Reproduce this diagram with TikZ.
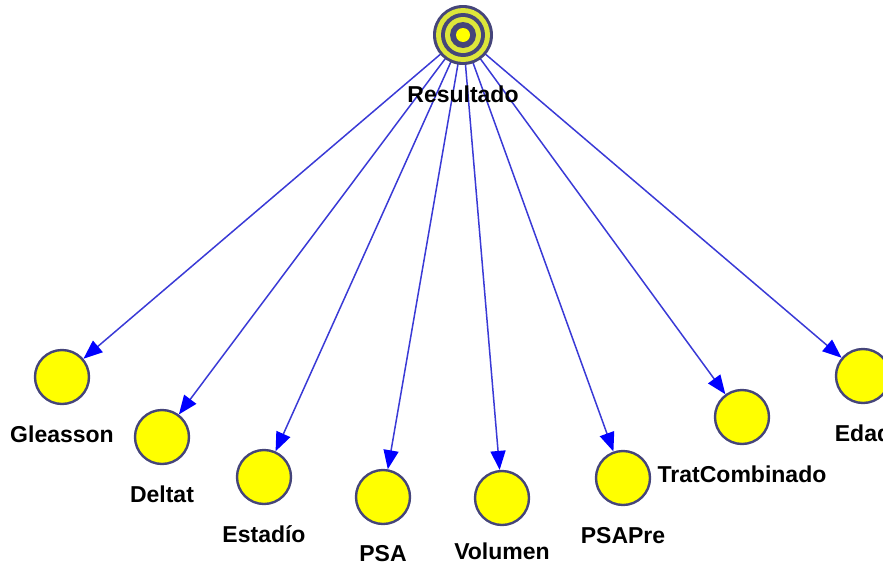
\documentclass[tikz,border=0pt]{standalone}
\usepackage{fontspec}
\setmainfont{Liberation Sans}
\usetikzlibrary{arrows.meta}
\definecolor{nodey}{HTML}{FFFF00}
\definecolor{ringy}{HTML}{DDE63A}
\definecolor{ringc}{HTML}{45457A}
\definecolor{linec}{HTML}{3A3AD6}
\definecolor{tipc}{HTML}{0000FF}

\begin{document}
\begin{tikzpicture}[x=1pt,y=-1pt,
  var/.style={circle,draw=ringc,line width=2.4pt,fill=nodey,minimum size=54pt,inner sep=0pt},
  lbl/.style={anchor=base,font=\bfseries\fontsize{23}{27}\selectfont},
  link/.style={draw=linec,line width=1.5pt,-{Triangle[length=19pt,width=15pt,color=tipc]}}]
  \useasboundingbox (0,0) rectangle (883,565);
  \clip (0,0) rectangle (883,565);
  % the variables
  \foreach \name/\x/\y/\dy/\txt in {gle/62/377/65/Gleasson, del/162/437/65/Deltat,
    est/264/477/65/Estadío, psa/383/497/64/PSA, vol/502/498/61/Volumen,
    pre/623/478/65/PSAPre, trat/742/417/65/TratCombinado, edad/863/376/65/Edad} {
    \node[var] (\name) at (\x,\y) {};
    \node[lbl] (\name-l) at (\x,\y+\dy) {\txt};
  }
  \coordinate (res) at (463,35);
  \foreach \name in {gle,del,est,psa,vol,pre,trat,edad}
    \draw[link] (res) -- (\name);
  % the target
  \foreach \r/\c in {30/ringc,27/ringy,22/ringc,18/ringy,13/ringc,7/nodey}
    \fill[\c] (res) circle (\r);
  \node[lbl] (res-l) at (463,102) {Resultado};
\end{tikzpicture}
\end{document}
